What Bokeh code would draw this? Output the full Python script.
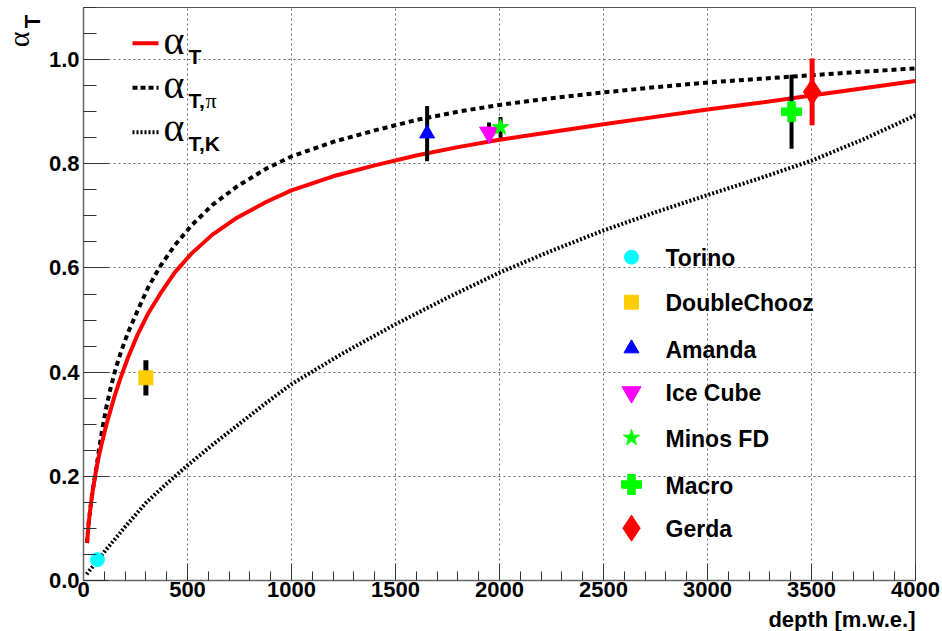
import math
from bokeh.plotting import figure
from bokeh.layouts import row, column
from bokeh.models import (Range1d, SingleIntervalTicker, NumeralTickFormatter,
                          Label, ColumnDataSource)
from bokeh.embed import file_html
from bokeh.resources import INLINE

# ---------------- data ----------------
curve_depth = [17, 25, 35, 45, 60, 75, 90, 110, 130, 150, 180, 215, 260, 310, 370,
               440, 520, 620, 740, 880, 1000, 1200, 1400, 1600, 1800, 2000, 2250,
               2500, 2750, 3000, 3250, 3500, 3750, 4000]
alpha_T = [0.072, 0.111, 0.145, 0.174, 0.210, 0.241, 0.267, 0.299, 0.327, 0.355,
           0.391, 0.429, 0.472, 0.512, 0.551, 0.592, 0.628, 0.664, 0.697, 0.727,
           0.749, 0.776, 0.797, 0.816, 0.832, 0.846, 0.861, 0.876, 0.890, 0.904,
           0.917, 0.931, 0.945, 0.959]
alpha_T_pi = [0.072, 0.111, 0.145, 0.175, 0.212, 0.252, 0.290, 0.333, 0.369, 0.400,
              0.439, 0.477, 0.518, 0.562, 0.604, 0.644, 0.682, 0.721, 0.757, 0.791,
              0.814, 0.842, 0.864, 0.884, 0.900, 0.913, 0.926, 0.937, 0.947, 0.956,
              0.963, 0.970, 0.977, 0.983]
kaon_depth = [15, 100, 200, 300, 400, 500, 625, 750, 875, 1000, 1250, 1500, 1750,
              2000, 2250, 2500, 2750, 3000, 3250, 3500, 3750, 4000]
alpha_T_K = [0.012, 0.055, 0.103, 0.149, 0.186, 0.221, 0.262, 0.301, 0.340, 0.377,
             0.437, 0.492, 0.543, 0.591, 0.633, 0.672, 0.707, 0.740, 0.772, 0.806,
             0.847, 0.893]

exp_names = ["Torino", "DoubleChooz", "Amanda", "Ice Cube", "Minos FD", "Macro", "Gerda"]
exp_depth = [67, 300, 1652, 1950, 2005, 3404, 3503]
exp_alpha = [0.040, 0.389, 0.858, 0.860, 0.870, 0.900, 0.938]
exp_err = [0.0, 0.034, 0.053, 0.019, 0.020, 0.071, 0.064]
exp_color = ["#00ffff", "#ffcc00", "#0000ff", "#ff00ff", "#00ff00", "#00ff00", "#ff0000"]
exp_marker = ["circle", "square", "triangle", "inverted_triangle", "star", "plus", "diamond"]
exp_size = [14, 14, 15, 19, 17, 20, 26]
err_color = ["black", "black", "black", "black", "black", "black", "#ff0000"]
err_width = [4, 5, 4, 4, 4, 4, 5]

x_title = "depth [m.w.e.]"

# ---------------- layout ----------------
X0, X1, Y0, Y1 = 0, 4000, 0, 1.1
W, H = 942, 631
YT_W = 44                      # strip holding the y-axis title
XT_H = 25                      # strip holding the x-axis title
MW, MH = W - YT_W, H - XT_H    # main figure size
FL, FT, FW, FH = 83, 7, 832, 573   # frame position in page pixels

serif = "Liberation Serif"
sans = "Liberation Sans"


def to_data(xp, yp):
    return (X0 + (xp - FL) * (X1 - X0) / FW,
            Y0 + (FT + FH - yp) * (Y1 - Y0) / FH)


p = figure(width=MW, height=MH, x_range=Range1d(X0, X1), y_range=Range1d(Y0, Y1),
           output_backend="svg", toolbar_location=None,
           min_border_left=FL - YT_W, min_border_right=W - FL - FW,
           min_border_top=FT, min_border_bottom=MH - FT - FH)
p.background_fill_color = "white"
p.border_fill_color = "white"
p.outline_line_color = "#555555"
p.outline_line_width = 1

p.xaxis.ticker = SingleIntervalTicker(interval=500, num_minor_ticks=5)
p.yaxis.ticker = SingleIntervalTicker(interval=0.2, num_minor_ticks=4)
p.xaxis.formatter = NumeralTickFormatter(format="0")
p.yaxis.formatter = NumeralTickFormatter(format="0.0")

for ax in (p.xaxis, p.yaxis):
    ax.axis_line_color = "#666666"
    ax.axis_line_width = 1.5
    ax.major_tick_line_color = "#333333"
    ax.minor_tick_line_color = "#333333"
    ax.major_tick_out = 0
    ax.minor_tick_out = 0
    ax.major_label_text_font = sans
    ax.major_label_text_font_style = "bold"
    ax.major_label_text_font_size = "22px"
    ax.major_label_text_color = "black"

p.yaxis.major_tick_in = 25
p.yaxis.minor_tick_in = 13
p.xaxis.major_tick_in = 17
p.xaxis.minor_tick_in = 9
p.yaxis.major_label_standoff = 4
p.xaxis.major_label_standoff = 1

for g in (p.xgrid, p.ygrid):
    g.grid_line_color = "#666666"
    g.grid_line_dash = "2 3"
    g.grid_line_width = 1

# ---------------- curves ----------------
p.line(kaon_depth, alpha_T_K, line_color="black", line_width=4, line_dash="2 2")
p.line(curve_depth, alpha_T_pi, line_color="black", line_width=4, line_dash="5 4")
p.line(curve_depth, alpha_T, line_color="#ff0000", line_width=4)

# ---------------- measurements ----------------
err_lo = [a - e for a, e in zip(exp_alpha, exp_err)]
err_hi = [a + e for a, e in zip(exp_alpha, exp_err)]
src = ColumnDataSource(dict(x=exp_depth, y=exp_alpha, lo=err_lo, hi=err_hi,
                            ec=err_color, ew=err_width, c=exp_color,
                            m=exp_marker, s=exp_size))
p.segment(x0="x", y0="lo", x1="x", y1="hi", line_color="ec", line_width="ew",
          source=src)
p.scatter(x="x", y="y", marker="m", size="s", fill_color="c", line_color="c",
          source=src)

# ---------------- legend of measurements ----------------
leg_y_px = [256.7, 301.7, 348, 391.7, 437.3, 484, 527.7]
lx = [to_data(631, yp)[0] for yp in leg_y_px]
ly = [to_data(631, yp)[1] for yp in leg_y_px]
p.scatter(x=lx, y=ly, marker=exp_marker, size=exp_size, fill_color=exp_color,
          line_color=exp_color)
for name, yp in zip(exp_names, leg_y_px):
    tx, ty = to_data(665, yp + 1)
    p.add_layout(Label(x=tx, y=ty, text=name, text_font=sans,
                       text_font_style="bold", text_font_size="23px",
                       text_baseline="middle", text_align="left",
                       text_color="black"))

# ---------------- legend of curves ----------------
curve_leg = [(42.7, "#ff0000", None), (87.3, "black", "5 3"), (131.7, "black", "2 2")]
for yp, col, dash in curve_leg:
    xa, ya = to_data(132, yp)
    xb, _ = to_data(158, yp)
    kw = dict(line_color=col, line_width=4)
    if dash:
        kw["line_dash"] = dash
    p.segment(x0=[xa], y0=[ya], x1=[xb], y1=[ya], **kw)


def add_text(fig, pos, text, font, size, style="normal", angle=0.0, align="left"):
    fig.add_layout(Label(x=pos[0], y=pos[1], text=text, text_font=font,
                         text_font_size=size, text_font_style=style,
                         text_align=align, text_baseline="middle",
                         angle=angle, text_color="black"))


# positions are the vertical centres of the text boxes
add_text(p, to_data(163, 39.5), "α", serif, "40px")
add_text(p, to_data(188, 55.7), "T", sans, "21px", "bold")
add_text(p, to_data(163, 83.5), "α", serif, "40px")
add_text(p, to_data(188, 99.7), "T,", sans, "21px", "bold")
add_text(p, to_data(205, 99.6), "π", serif, "22px")
add_text(p, to_data(163, 126.5), "α", serif, "40px")
add_text(p, to_data(188, 142.7), "T,K", sans, "21px", "bold")


def blank(w, h):
    f = figure(width=w, height=h, x_range=Range1d(0, w), y_range=Range1d(0, h),
               output_backend="svg", toolbar_location=None,
               x_axis_type=None, y_axis_type=None, min_border=0)
    f.outline_line_color = None
    f.xgrid.visible = False
    f.ygrid.visible = False
    f.background_fill_color = "white"
    f.border_fill_color = "white"
    return f


# y-axis title strip (page pixels: x 0..YT_W, y 0..MH), rotated text
yfig = blank(YT_W, MH)
add_text(yfig, (17.6, MH - 42), "α", serif, "30px", angle=math.pi / 2)
add_text(yfig, (31.6, MH - 22), "T", sans, "22px", "bold", angle=math.pi / 2)

# x-axis title strip (page pixels: y MH..H)
xfig = blank(W, XT_H)
add_text(xfig, (FL + FW, XT_H / 2), x_title, sans, "22px", "bold", align="right")

layout = column(row(yfig, p, spacing=0), xfig, spacing=0)

open("out.html", "w").write(file_html(layout, INLINE))
